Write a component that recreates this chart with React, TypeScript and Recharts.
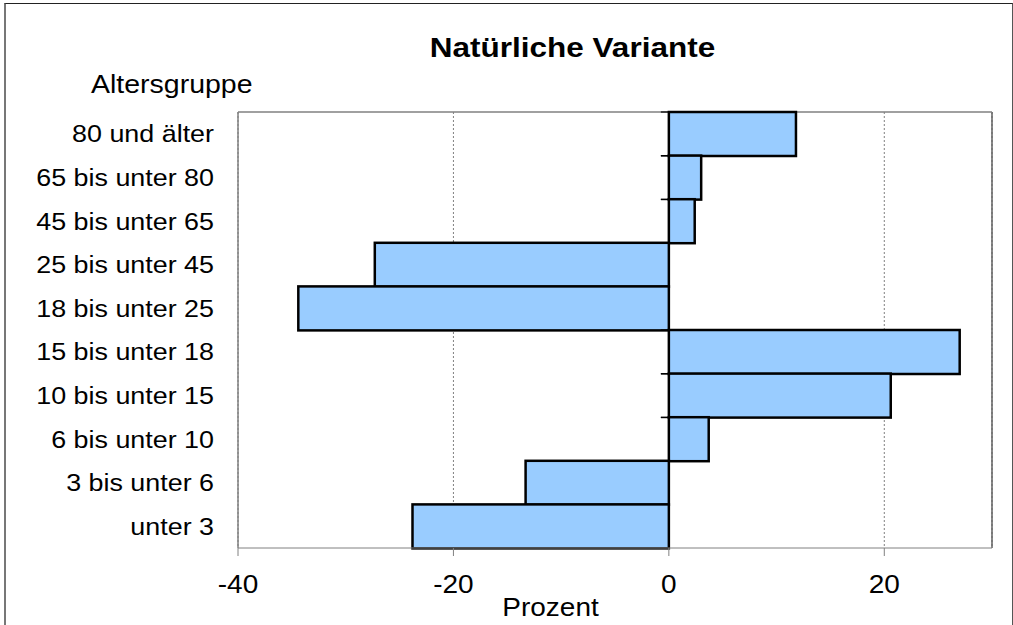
import React from 'react';
import { BarChart, Bar, XAxis, YAxis, CartesianGrid, ReferenceLine } from 'recharts';

// Altersgruppen von oben nach unten
const gruppen = [
    '80 und älter',
    '65 bis unter 80',
    '45 bis unter 65',
    '25 bis unter 45',
    '18 bis unter 25',
    '15 bis unter 18',
    '10 bis unter 15',
    '6 bis unter 10',
    '3 bis unter 6',
    'unter 3',
];
const prozent = [11.8, 3.0, 2.4, -27.3, -34.4, 27.0, 20.6, 3.7, -13.3, -23.8];
const xTicks = [-40, -20, 0, 20];
const xDomain: [number, number] = [-40, 30];

const chartData = gruppen.map((g, i) => ({ gruppe: g, wert: prozent[i] }));

const FONT = '"Liberation Sans", Arial, sans-serif';
const STRETCH = 1.12;

const YTick = ({ x, y, payload }: any) => (
    <text
        transform={`translate(${x},${y + 8.5}) scale(${STRETCH},1)`}
        textAnchor="end"
        fontSize={24}
        fontFamily={FONT}
        fill="#000"
    >
        {payload.value}
    </text>
);

const XTick = ({ x, y, payload }: any) => (
    <text
        transform={`translate(${x},${y + 37}) scale(${STRETCH},1)`}
        textAnchor="middle"
        fontSize={25}
        fontFamily={FONT}
        fill="#000"
    >
        {payload.value}
    </text>
);

// Balken mit kleinen Teilstrichen an der Nulllinie
const BarShape = (props: any) => {
    const { x, y, width, height, payload } = props;
    const x0 = Math.min(x, x + width);
    const w = Math.abs(width);
    const zeroX = payload.wert >= 0 ? x0 : x0 + w;
    return (
        <g>
            <line x1={zeroX - 8} x2={zeroX} y1={y} y2={y} stroke="#000" strokeWidth={1.2} />
            <line x1={zeroX - 8} x2={zeroX} y1={y + height} y2={y + height} stroke="#000" strokeWidth={1.2} />
            <rect x={x0} y={y} width={w} height={height} fill="#99CCFF" stroke="#000" strokeWidth={2.5} />
        </g>
    );
};

const App: React.FC = () => {
    return (
        <div style={{ position: 'absolute', top: 0, left: 0, width: 1013, height: 625, overflow: 'hidden', background: '#fff', fontFamily: FONT }}>
            <div
                style={{
                    position: 'absolute', left: 4, top: 3, width: 1006, height: 700,
                    borderTop: '1px solid #222', borderLeft: '2px solid #777', borderRight: '1px solid #555',
                }}
            />
            <div style={{ position: 'absolute', top: 0, left: 0 }}>
                <BarChart
                    width={1013}
                    height={625}
                    data={chartData}
                    layout="vertical"
                    barCategoryGap={0}
                    margin={{ top: 112, right: 21, bottom: 0, left: 8 }}
                >
                    <CartesianGrid horizontal={false} stroke="#808080" strokeDasharray="2 2" />
                    <XAxis
                        type="number"
                        domain={xDomain}
                        ticks={xTicks}
                        allowDataOverflow
                        height={77}
                        tickSize={8}
                        tickMargin={0}
                        tick={<XTick />}
                        axisLine={{ stroke: '#808080' }}
                        tickLine={{ stroke: '#808080' }}
                    />
                    <YAxis
                        type="category"
                        dataKey="gruppe"
                        width={230}
                        tickSize={0}
                        tickMargin={24}
                        tick={<YTick />}
                        axisLine={{ stroke: '#808080' }}
                        tickLine={false}
                    />
                    {/* Rahmen der Zeichenfläche */}
                    <ReferenceLine x={30} stroke="#606060" strokeWidth={1.5} ifOverflow="visible" zIndex={100} />
                    <ReferenceLine x={-40} stroke="#808080" strokeWidth={1} ifOverflow="visible" zIndex={100} />
                    <ReferenceLine y={gruppen[0]} position="start" stroke="#808080" strokeWidth={1.5} ifOverflow="visible" zIndex={100} />
                    <Bar dataKey="wert" shape={<BarShape />} isAnimationActive={false} />
                </BarChart>
            </div>
            <svg width={1013} height={625} style={{ position: 'absolute', top: 0, left: 0, pointerEvents: 'none' }}>
                <text transform="translate(572.5,57) scale(1.125,1)" textAnchor="middle" fontSize={28} fontWeight="bold" fontFamily={FONT} fill="#000">
                    Natürliche Variante
                </text>
                <text transform="translate(91,93) scale(1.14,1)" textAnchor="start" fontSize={25} fontFamily={FONT} fill="#000">
                    Altersgruppe
                </text>
                <text transform="translate(550.5,616) scale(1.12,1)" textAnchor="middle" fontSize={25} fontFamily={FONT} fill="#000">
                    Prozent
                </text>
            </svg>
        </div>
    );
};

export default App;
